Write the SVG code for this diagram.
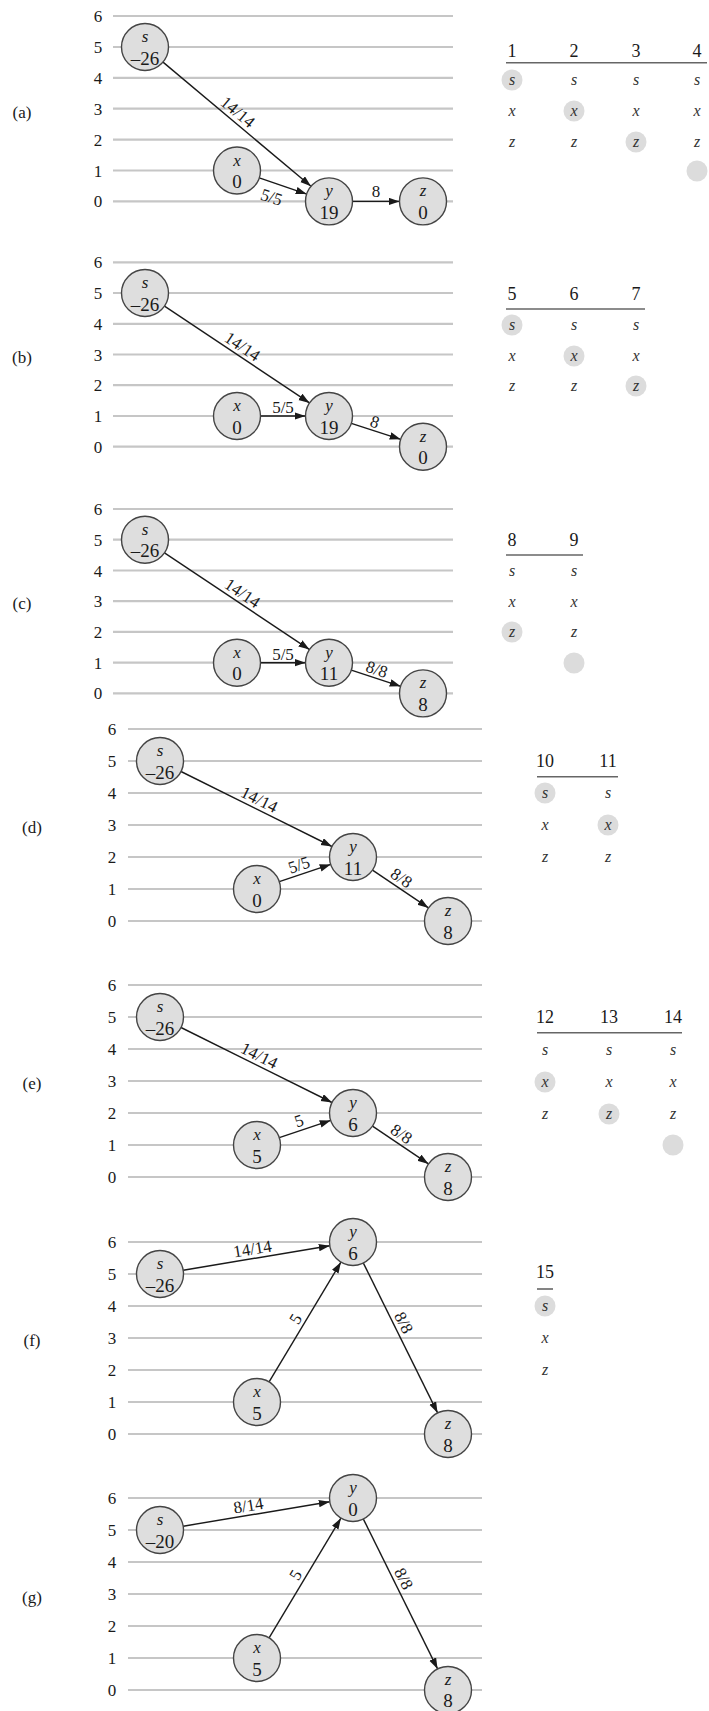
<svg xmlns="http://www.w3.org/2000/svg" width="709" height="1711" viewBox="0 0 709 1711">
<defs>
<marker id="arr" markerUnits="userSpaceOnUse" markerWidth="12" markerHeight="8" refX="11" refY="3.75" orient="auto"><path d="M0,0 L11,3.75 L0,7.5 z" fill="#1a1a1a"/></marker>
</defs>
<style>
.lvl{stroke:#c6c6c6;stroke-width:2.2}
.ax{font-family:"Liberation Serif","Times New Roman",serif;font-size:17px;fill:#1a1a1a;text-anchor:middle}
.pl{font-family:"Liberation Serif","Times New Roman",serif;font-size:17px;fill:#1a1a1a;text-anchor:middle}
.node circle{fill:#dedede;stroke:#444;stroke-width:1.4}
.nm{font-family:"Liberation Serif","Times New Roman",serif;font-style:italic;font-size:17px;fill:#1a1a1a;text-anchor:middle}
.val{font-family:"Liberation Serif","Times New Roman",serif;font-size:19px;fill:#1a1a1a;text-anchor:middle}
.edge{stroke:#1a1a1a;stroke-width:1.4;fill:none;marker-end:url(#arr)}
.el{font-family:"Liberation Serif","Times New Roman",serif;font-size:17px;fill:#1a1a1a;text-anchor:middle}
.th{font-family:"Liberation Serif","Times New Roman",serif;font-size:18px;fill:#1a1a1a;text-anchor:middle}
.tr{font-family:"Liberation Serif","Times New Roman",serif;font-style:italic;font-size:16px;fill:#333;text-anchor:middle}
.hl{fill:#dcdcdc}
.ul{stroke:#666;stroke-width:1.6}
</style>
<rect width="709" height="1711" fill="#fff"/>

<!-- level grids -->
<g id="grid-a">
<line class="lvl" x1="113" y1="16" x2="453" y2="16"/><line class="lvl" x1="113" y1="47" x2="453" y2="47"/><line class="lvl" x1="113" y1="77.8" x2="453" y2="77.8"/><line class="lvl" x1="113" y1="108.7" x2="453" y2="108.7"/><line class="lvl" x1="113" y1="139.6" x2="453" y2="139.6"/><line class="lvl" x1="113" y1="170.5" x2="453" y2="170.5"/><line class="lvl" x1="113" y1="201.4" x2="453" y2="201.4"/>
<text class="ax" x="98" y="22">6</text><text class="ax" x="98" y="53">5</text><text class="ax" x="98" y="83.8">4</text><text class="ax" x="98" y="114.7">3</text><text class="ax" x="98" y="145.6">2</text><text class="ax" x="98" y="176.5">1</text><text class="ax" x="98" y="207.4">0</text>
<text class="pl" x="22" y="118">(a)</text>
</g>
<g id="grid-b">
<line class="lvl" x1="113" y1="262.3" x2="453" y2="262.3"/><line class="lvl" x1="113" y1="293" x2="453" y2="293"/><line class="lvl" x1="113" y1="323.8" x2="453" y2="323.8"/><line class="lvl" x1="113" y1="354.5" x2="453" y2="354.5"/><line class="lvl" x1="113" y1="385.2" x2="453" y2="385.2"/><line class="lvl" x1="113" y1="416" x2="453" y2="416"/><line class="lvl" x1="113" y1="446.7" x2="453" y2="446.7"/>
<text class="ax" x="98" y="268.3">6</text><text class="ax" x="98" y="299">5</text><text class="ax" x="98" y="329.8">4</text><text class="ax" x="98" y="360.5">3</text><text class="ax" x="98" y="391.2">2</text><text class="ax" x="98" y="422">1</text><text class="ax" x="98" y="452.7">0</text>
<text class="pl" x="22" y="363">(b)</text>
</g>
<g id="grid-c">
<line class="lvl" x1="113" y1="509" x2="453" y2="509"/><line class="lvl" x1="113" y1="539.7" x2="453" y2="539.7"/><line class="lvl" x1="113" y1="570.5" x2="453" y2="570.5"/><line class="lvl" x1="113" y1="601.2" x2="453" y2="601.2"/><line class="lvl" x1="113" y1="631.9" x2="453" y2="631.9"/><line class="lvl" x1="113" y1="662.7" x2="453" y2="662.7"/><line class="lvl" x1="113" y1="693.4" x2="453" y2="693.4"/>
<text class="ax" x="98" y="515">6</text><text class="ax" x="98" y="545.7">5</text><text class="ax" x="98" y="576.5">4</text><text class="ax" x="98" y="607.2">3</text><text class="ax" x="98" y="637.9">2</text><text class="ax" x="98" y="668.7">1</text><text class="ax" x="98" y="699.4">0</text>
<text class="pl" x="22" y="609">(c)</text>
</g>
<g id="grid-d">
<line class="lvl" x1="128" y1="729" x2="482" y2="729"/><line class="lvl" x1="128" y1="761" x2="482" y2="761"/><line class="lvl" x1="128" y1="793" x2="482" y2="793"/><line class="lvl" x1="128" y1="825" x2="482" y2="825"/><line class="lvl" x1="128" y1="857" x2="482" y2="857"/><line class="lvl" x1="128" y1="889" x2="482" y2="889"/><line class="lvl" x1="128" y1="921" x2="482" y2="921"/>
<text class="ax" x="112" y="735">6</text><text class="ax" x="112" y="767">5</text><text class="ax" x="112" y="799">4</text><text class="ax" x="112" y="831">3</text><text class="ax" x="112" y="863">2</text><text class="ax" x="112" y="895">1</text><text class="ax" x="112" y="927">0</text>
<text class="pl" x="32" y="833">(d)</text>
</g>
<g id="grid-e">
<line class="lvl" x1="128" y1="985" x2="482" y2="985"/><line class="lvl" x1="128" y1="1017" x2="482" y2="1017"/><line class="lvl" x1="128" y1="1049" x2="482" y2="1049"/><line class="lvl" x1="128" y1="1081" x2="482" y2="1081"/><line class="lvl" x1="128" y1="1113" x2="482" y2="1113"/><line class="lvl" x1="128" y1="1145" x2="482" y2="1145"/><line class="lvl" x1="128" y1="1177" x2="482" y2="1177"/>
<text class="ax" x="112" y="991">6</text><text class="ax" x="112" y="1023">5</text><text class="ax" x="112" y="1055">4</text><text class="ax" x="112" y="1087">3</text><text class="ax" x="112" y="1119">2</text><text class="ax" x="112" y="1151">1</text><text class="ax" x="112" y="1183">0</text>
<text class="pl" x="32" y="1089">(e)</text>
</g>
<g id="grid-f">
<line class="lvl" x1="128" y1="1242" x2="482" y2="1242"/><line class="lvl" x1="128" y1="1274" x2="482" y2="1274"/><line class="lvl" x1="128" y1="1306" x2="482" y2="1306"/><line class="lvl" x1="128" y1="1338" x2="482" y2="1338"/><line class="lvl" x1="128" y1="1370" x2="482" y2="1370"/><line class="lvl" x1="128" y1="1402" x2="482" y2="1402"/><line class="lvl" x1="128" y1="1434" x2="482" y2="1434"/>
<text class="ax" x="112" y="1248">6</text><text class="ax" x="112" y="1280">5</text><text class="ax" x="112" y="1312">4</text><text class="ax" x="112" y="1344">3</text><text class="ax" x="112" y="1376">2</text><text class="ax" x="112" y="1408">1</text><text class="ax" x="112" y="1440">0</text>
<text class="pl" x="32" y="1346">(f)</text>
</g>
<g id="grid-g">
<line class="lvl" x1="128" y1="1498" x2="482" y2="1498"/><line class="lvl" x1="128" y1="1530" x2="482" y2="1530"/><line class="lvl" x1="128" y1="1562" x2="482" y2="1562"/><line class="lvl" x1="128" y1="1594" x2="482" y2="1594"/><line class="lvl" x1="128" y1="1626" x2="482" y2="1626"/><line class="lvl" x1="128" y1="1658" x2="482" y2="1658"/><line class="lvl" x1="128" y1="1690" x2="482" y2="1690"/>
<text class="ax" x="112" y="1504">6</text><text class="ax" x="112" y="1536">5</text><text class="ax" x="112" y="1568">4</text><text class="ax" x="112" y="1600">3</text><text class="ax" x="112" y="1632">2</text><text class="ax" x="112" y="1664">1</text><text class="ax" x="112" y="1696">0</text>
<text class="pl" x="32" y="1603">(g)</text>
</g>

<!-- connectors -->
<g id="connectors">
<line class="edge" x1="163" y1="62.1" x2="311" y2="186.3"/>
<line class="edge" x1="259.3" y1="177.8" x2="306.7" y2="194.1"/>
<line class="edge" x1="352.5" y1="201.4" x2="399.5" y2="201.4"/>
<text class="el" transform="translate(231.5,119.4) rotate(39.9)" y="-4">14/14</text>
<text class="el" transform="translate(276,183.5) rotate(18.1)" y="20">5/5</text>
<text class="el" x="376" y="197">8</text>

<line class="edge" x1="164.5" y1="306.1" x2="309.5" y2="402.9"/>
<line class="edge" x1="260.5" y1="416" x2="305.5" y2="416"/>
<line class="edge" x1="351.3" y1="423.4" x2="400.7" y2="439.3"/>
<text class="el" transform="translate(237,354.5) rotate(33.8)" y="-4">14/14</text>
<text class="el" x="283" y="413">5/5</text>
<text class="el" transform="translate(372,430.2) rotate(18.3)" y="-3">8</text>

<line class="edge" x1="164.5" y1="552.8" x2="309.5" y2="649.6"/>
<line class="edge" x1="260.5" y1="662.7" x2="305.5" y2="662.7"/>
<line class="edge" x1="351.3" y1="670.1" x2="400.7" y2="686.3"/>
<text class="el" transform="translate(237,601.2) rotate(33.8)" y="-4">14/14</text>
<text class="el" x="283" y="659.7">5/5</text>
<text class="el" transform="translate(374,677.5) rotate(18.3)" y="-3">8/8</text>

<line class="edge" x1="181" y1="771.5" x2="332" y2="846.5"/>
<line class="edge" x1="279.3" y1="881.6" x2="330.7" y2="864.4"/>
<line class="edge" x1="372.5" y1="870.1" x2="428.5" y2="907.9"/>
<text class="el" transform="translate(255,808.3) rotate(26.4)" y="-4">14/14</text>
<text class="el" transform="translate(302,874) rotate(-18.4)" y="-4">5/5</text>
<text class="el" transform="translate(396,886) rotate(34)" y="-4">8/8</text>

<line class="edge" x1="181" y1="1027.5" x2="332" y2="1102.5"/>
<line class="edge" x1="279.3" y1="1137.6" x2="330.7" y2="1120.4"/>
<line class="edge" x1="372.5" y1="1126.1" x2="428.5" y2="1163.9"/>
<text class="el" transform="translate(255,1064.3) rotate(26.4)" y="-4">14/14</text>
<text class="el" transform="translate(302,1130) rotate(-18.4)" y="-4">5</text>
<text class="el" transform="translate(396,1142) rotate(34)" y="-4">8/8</text>

<line class="edge" x1="183.2" y1="1270.2" x2="329.8" y2="1245.8"/>
<line class="edge" x1="269.1" y1="1381.8" x2="340.9" y2="1262.2"/>
<line class="edge" x1="363.4" y1="1263.1" x2="437.6" y2="1412.9"/>
<text class="el" transform="translate(254,1258.4) rotate(-9.4)" y="-4">14/14</text>
<text class="el" transform="translate(303.8,1324) rotate(-59)" y="-4">5</text>
<text class="el" transform="translate(395.1,1327) rotate(63.7)" y="-4">8/8</text>

<line class="edge" x1="183.2" y1="1526.2" x2="329.8" y2="1501.8"/>
<line class="edge" x1="269.1" y1="1637.8" x2="340.9" y2="1518.2"/>
<line class="edge" x1="363.4" y1="1519.1" x2="437.6" y2="1668.9"/>
<text class="el" transform="translate(250,1515.1) rotate(-9.4)" y="-4">8/14</text>
<text class="el" transform="translate(303.8,1580) rotate(-59)" y="-4">5</text>
<text class="el" transform="translate(395.1,1583) rotate(63.7)" y="-4">8/8</text>
</g>

<!-- nodes -->
<g id="a-s" class="node"><circle cx="145" cy="47" r="23.5"/><text class="nm" x="145" y="42">s</text><text class="val" x="145" y="64.5">–26</text></g>
<g id="a-x" class="node"><circle cx="237" cy="170.5" r="23.5"/><text class="nm" x="237" y="165.5">x</text><text class="val" x="237" y="188">0</text></g>
<g id="a-y" class="node"><circle cx="329" cy="201.4" r="23.5"/><text class="nm" x="329" y="196.4">y</text><text class="val" x="329" y="218.9">19</text></g>
<g id="a-z" class="node"><circle cx="423" cy="201.4" r="23.5"/><text class="nm" x="423" y="196.4">z</text><text class="val" x="423" y="218.9">0</text></g>

<g id="b-s" class="node"><circle cx="145" cy="293" r="23.5"/><text class="nm" x="145" y="288">s</text><text class="val" x="145" y="310.5">–26</text></g>
<g id="b-x" class="node"><circle cx="237" cy="416" r="23.5"/><text class="nm" x="237" y="411">x</text><text class="val" x="237" y="433.5">0</text></g>
<g id="b-y" class="node"><circle cx="329" cy="416" r="23.5"/><text class="nm" x="329" y="411">y</text><text class="val" x="329" y="433.5">19</text></g>
<g id="b-z" class="node"><circle cx="423" cy="446.7" r="23.5"/><text class="nm" x="423" y="441.7">z</text><text class="val" x="423" y="464.2">0</text></g>

<g id="c-s" class="node"><circle cx="145" cy="539.7" r="23.5"/><text class="nm" x="145" y="534.7">s</text><text class="val" x="145" y="557.2">–26</text></g>
<g id="c-x" class="node"><circle cx="237" cy="662.7" r="23.5"/><text class="nm" x="237" y="657.7">x</text><text class="val" x="237" y="680.2">0</text></g>
<g id="c-y" class="node"><circle cx="329" cy="662.7" r="23.5"/><text class="nm" x="329" y="657.7">y</text><text class="val" x="329" y="680.2">11</text></g>
<g id="c-z" class="node"><circle cx="423" cy="693.4" r="23.5"/><text class="nm" x="423" y="688.4">z</text><text class="val" x="423" y="710.9">8</text></g>

<g id="d-s" class="node"><circle cx="160" cy="761" r="23.5"/><text class="nm" x="160" y="756">s</text><text class="val" x="160" y="778.5">–26</text></g>
<g id="d-x" class="node"><circle cx="257" cy="889" r="23.5"/><text class="nm" x="257" y="884">x</text><text class="val" x="257" y="906.5">0</text></g>
<g id="d-y" class="node"><circle cx="353" cy="857" r="23.5"/><text class="nm" x="353" y="852">y</text><text class="val" x="353" y="874.5">11</text></g>
<g id="d-z" class="node"><circle cx="448" cy="921" r="23.5"/><text class="nm" x="448" y="916">z</text><text class="val" x="448" y="938.5">8</text></g>

<g id="e-s" class="node"><circle cx="160" cy="1017" r="23.5"/><text class="nm" x="160" y="1012">s</text><text class="val" x="160" y="1034.5">–26</text></g>
<g id="e-x" class="node"><circle cx="257" cy="1145" r="23.5"/><text class="nm" x="257" y="1140">x</text><text class="val" x="257" y="1162.5">5</text></g>
<g id="e-y" class="node"><circle cx="353" cy="1113" r="23.5"/><text class="nm" x="353" y="1108">y</text><text class="val" x="353" y="1130.5">6</text></g>
<g id="e-z" class="node"><circle cx="448" cy="1177" r="23.5"/><text class="nm" x="448" y="1172">z</text><text class="val" x="448" y="1194.5">8</text></g>

<g id="f-s" class="node"><circle cx="160" cy="1274" r="23.5"/><text class="nm" x="160" y="1269">s</text><text class="val" x="160" y="1291.5">–26</text></g>
<g id="f-x" class="node"><circle cx="257" cy="1402" r="23.5"/><text class="nm" x="257" y="1397">x</text><text class="val" x="257" y="1419.5">5</text></g>
<g id="f-y" class="node"><circle cx="353" cy="1242" r="23.5"/><text class="nm" x="353" y="1237">y</text><text class="val" x="353" y="1259.5">6</text></g>
<g id="f-z" class="node"><circle cx="448" cy="1434" r="23.5"/><text class="nm" x="448" y="1429">z</text><text class="val" x="448" y="1451.5">8</text></g>

<g id="g-s" class="node"><circle cx="160" cy="1530" r="23.5"/><text class="nm" x="160" y="1525">s</text><text class="val" x="160" y="1547.5">–20</text></g>
<g id="g-x" class="node"><circle cx="257" cy="1658" r="23.5"/><text class="nm" x="257" y="1653">x</text><text class="val" x="257" y="1675.5">5</text></g>
<g id="g-y" class="node"><circle cx="353" cy="1498" r="23.5"/><text class="nm" x="353" y="1493">y</text><text class="val" x="353" y="1515.5">0</text></g>
<g id="g-z" class="node"><circle cx="448" cy="1690" r="23.5"/><text class="nm" x="448" y="1685">z</text><text class="val" x="448" y="1707">8</text></g>

<!-- tables -->
<g id="table-a">
<circle class="hl" cx="512" cy="80" r="10.5"/><circle class="hl" cx="574" cy="111" r="10.5"/><circle class="hl" cx="636" cy="142" r="10.5"/><circle class="hl" cx="697" cy="171" r="10.5"/>
<text class="th" x="512" y="56.5">1</text><text class="th" x="574" y="56.5">2</text><text class="th" x="636" y="56.5">3</text><text class="th" x="697" y="56.5">4</text>
<line class="ul" x1="506" y1="62.7" x2="707" y2="62.7"/>
<text class="tr" x="512" y="84.5">s</text><text class="tr" x="574" y="84.5">s</text><text class="tr" x="636" y="84.5">s</text><text class="tr" x="697" y="84.5">s</text>
<text class="tr" x="512" y="115.5">x</text><text class="tr" x="574" y="115.5">x</text><text class="tr" x="636" y="115.5">x</text><text class="tr" x="697" y="115.5">x</text>
<text class="tr" x="512" y="146.5">z</text><text class="tr" x="574" y="146.5">z</text><text class="tr" x="636" y="146.5">z</text><text class="tr" x="697" y="146.5">z</text>
</g>
<g id="table-b">
<circle class="hl" cx="512" cy="325" r="10.5"/><circle class="hl" cx="574" cy="356" r="10.5"/><circle class="hl" cx="636" cy="386" r="10.5"/>
<text class="th" x="512" y="299.5">5</text><text class="th" x="574" y="299.5">6</text><text class="th" x="636" y="299.5">7</text>
<line class="ul" x1="506" y1="309" x2="645" y2="309"/>
<text class="tr" x="512" y="329.5">s</text><text class="tr" x="574" y="329.5">s</text><text class="tr" x="636" y="329.5">s</text>
<text class="tr" x="512" y="360.5">x</text><text class="tr" x="574" y="360.5">x</text><text class="tr" x="636" y="360.5">x</text>
<text class="tr" x="512" y="390.5">z</text><text class="tr" x="574" y="390.5">z</text><text class="tr" x="636" y="390.5">z</text>
</g>
<g id="table-c">
<circle class="hl" cx="512" cy="632" r="10.5"/><circle class="hl" cx="574" cy="663" r="10.5"/>
<text class="th" x="512" y="545.5">8</text><text class="th" x="574" y="545.5">9</text>
<line class="ul" x1="506" y1="555" x2="583" y2="555"/>
<text class="tr" x="512" y="575.5">s</text><text class="tr" x="574" y="575.5">s</text>
<text class="tr" x="512" y="606.5">x</text><text class="tr" x="574" y="606.5">x</text>
<text class="tr" x="512" y="636.5">z</text><text class="tr" x="574" y="636.5">z</text>
</g>
<g id="table-d">
<circle class="hl" cx="545" cy="793" r="10.5"/><circle class="hl" cx="608" cy="825" r="10.5"/>
<text class="th" x="545" y="766.5">10</text><text class="th" x="608" y="766.5">11</text>
<line class="ul" x1="537" y1="776.7" x2="618" y2="776.7"/>
<text class="tr" x="545" y="797.5">s</text><text class="tr" x="608" y="797.5">s</text>
<text class="tr" x="545" y="829.5">x</text><text class="tr" x="608" y="829.5">x</text>
<text class="tr" x="545" y="861.5">z</text><text class="tr" x="608" y="861.5">z</text>
</g>
<g id="table-e">
<circle class="hl" cx="545" cy="1082" r="10.5"/><circle class="hl" cx="609" cy="1114" r="10.5"/><circle class="hl" cx="673" cy="1145" r="10.5"/>
<text class="th" x="545" y="1023">12</text><text class="th" x="609" y="1023">13</text><text class="th" x="673" y="1023">14</text>
<line class="ul" x1="537" y1="1032.7" x2="682" y2="1032.7"/>
<text class="tr" x="545" y="1054.5">s</text><text class="tr" x="609" y="1054.5">s</text><text class="tr" x="673" y="1054.5">s</text>
<text class="tr" x="545" y="1086.5">x</text><text class="tr" x="609" y="1086.5">x</text><text class="tr" x="673" y="1086.5">x</text>
<text class="tr" x="545" y="1118.5">z</text><text class="tr" x="609" y="1118.5">z</text><text class="tr" x="673" y="1118.5">z</text>
</g>
<g id="table-f">
<circle class="hl" cx="545" cy="1306" r="10.5"/>
<text class="th" x="545" y="1278">15</text>
<line class="ul" x1="537" y1="1289" x2="553" y2="1289"/>
<text class="tr" x="545" y="1310.5">s</text>
<text class="tr" x="545" y="1342.5">x</text>
<text class="tr" x="545" y="1374.5">z</text>
</g>
</svg>
